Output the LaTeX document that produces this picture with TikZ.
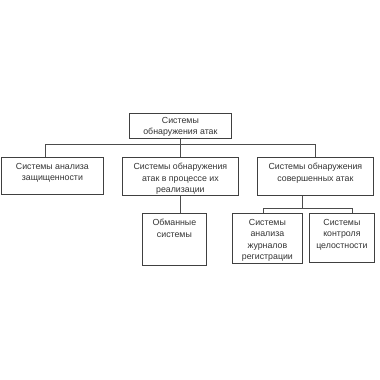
\documentclass[tikz,border=0pt]{standalone}
\usepackage{fontspec}
\setmainfont{Liberation Sans}
\begin{document}
\begin{tikzpicture}[x=1pt,y=-1pt,
    box/.style 2 args={draw=black!75, line width=0.8pt, minimum width=#1, minimum height=#2,
                       inner sep=0pt, anchor=north west},
    boxtext/.style={anchor=north, align=center, inner sep=0pt, yshift=-6pt,
                    font=\fontsize{8.8}{11.5}\selectfont, text=black!80},
    link/.style={draw=black!70, line width=0.8pt}]

    \useasboundingbox (0,0) rectangle (380,380);

    % boxes placed by their upper left corners
    \node[box={102pt}{25pt}, label={[boxtext, yshift=2pt]north:{Системы\\обнаружения атак}}] (top) at (129,113) {};

    \node[box={102pt}{37pt}, label={[boxtext]north:{Системы анализа\\защищенности}}] (b1) at (1,157) {};
    \node[box={116pt}{38pt}, label={[boxtext]north:{Системы обнаружения\\атак в процессе их\\реализации}}] (b2) at (122,157) {};
    \node[box={116pt}{38pt}, label={[boxtext]north:{Системы обнаружения\\совершенных атак}}] (b3) at (257,157) {};

    \node[box={64pt}{52pt}, label={[boxtext]north:{Обманные\\системы}}] (b4) at (142,213) {};
    \node[box={70pt}{50pt}, label={[boxtext]north:{Системы\\анализа\\журналов\\регистрации}}] (b5) at (232,213) {};
    \node[box={65pt}{49pt}, label={[boxtext]north:{Системы\\контроля\\целостности}}] (b6) at (309,213) {};

    % branch points
    \coordinate (j1l) at (45,144);
    \coordinate (j1r) at (315,144);
    \coordinate (j2)  at (302,208);
    \coordinate (j2l) at (263,208);
    \coordinate (j2r) at (352,208);

    \draw[link] (top.south) -- (b2.north);
    \draw[link] (j1l |- b1.north) -- (j1l) -- (j1r) -- (j1r |- b3.north);
    \draw[link] (b2.south) -- (b2.south |- b4.north);
    \draw[link] (j2 |- b3.south) -- (j2);
    \draw[link] (j2l |- b5.north) -- (j2l) -- (j2r) -- (j2r |- b6.north);

\end{tikzpicture}
\end{document}
